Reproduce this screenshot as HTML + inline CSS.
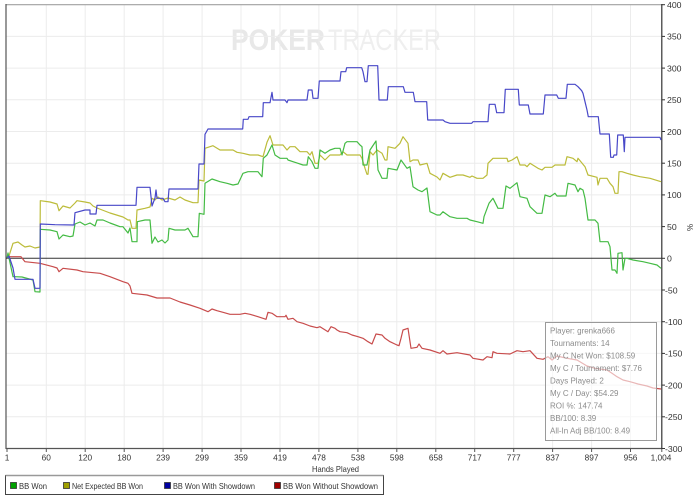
<!DOCTYPE html>
<html><head><meta charset="utf-8"><style>
html,body{margin:0;padding:0;background:#fff;}
svg{display:block;}
text{font-family:"Liberation Sans",Arial,sans-serif;}
</style></head><body>
<svg width="700" height="500" viewBox="0 0 700 500" xmlns="http://www.w3.org/2000/svg">
<rect x="0" y="0" width="700" height="500" fill="#fff"/>
<!-- watermark -->
<text x="231" y="50" font-size="30" font-weight="bold" fill="#e8e8e8" textLength="94" lengthAdjust="spacingAndGlyphs">POKER</text>
<text x="328" y="50" font-size="30" fill="#efefef" textLength="113" lengthAdjust="spacingAndGlyphs">TRACKER</text>
<!-- horizontal grid -->
<g stroke="#ececec" stroke-width="1">
<line x1="6" y1="36.4" x2="662" y2="36.4"/><line x1="6" y1="68.1" x2="662" y2="68.1"/>
<line x1="6" y1="99.8" x2="662" y2="99.8"/><line x1="6" y1="131.5" x2="662" y2="131.5"/>
<line x1="6" y1="163.2" x2="662" y2="163.2"/><line x1="6" y1="194.9" x2="662" y2="194.9"/>
<line x1="6" y1="226.6" x2="662" y2="226.6"/><line x1="6" y1="290" x2="662" y2="290"/>
<line x1="6" y1="321.7" x2="662" y2="321.7"/><line x1="6" y1="353.4" x2="662" y2="353.4"/>
<line x1="6" y1="385.1" x2="662" y2="385.1"/><line x1="6" y1="416.8" x2="662" y2="416.8"/>
</g>
<!-- vertical grid -->
<g stroke="#ececec" stroke-width="1">
<line x1="46.3" y1="5" x2="46.3" y2="448"/><line x1="85.2" y1="5" x2="85.2" y2="448"/>
<line x1="124.2" y1="5" x2="124.2" y2="448"/><line x1="163.1" y1="5" x2="163.1" y2="448"/>
<line x1="202.1" y1="5" x2="202.1" y2="448"/><line x1="241" y1="5" x2="241" y2="448"/>
<line x1="280" y1="5" x2="280" y2="448"/><line x1="318.9" y1="5" x2="318.9" y2="448"/>
<line x1="357.9" y1="5" x2="357.9" y2="448"/><line x1="396.8" y1="5" x2="396.8" y2="448"/>
<line x1="435.8" y1="5" x2="435.8" y2="448"/><line x1="474.7" y1="5" x2="474.7" y2="448"/>
<line x1="513.7" y1="5" x2="513.7" y2="448"/><line x1="552.6" y1="5" x2="552.6" y2="448"/>
<line x1="591.6" y1="5" x2="591.6" y2="448"/><line x1="630.5" y1="5" x2="630.5" y2="448"/>
</g>
<!-- frame -->
<line x1="6" y1="4.7" x2="662" y2="4.7" stroke="#a0a0a0" stroke-width="1.2"/>
<line x1="6" y1="4" x2="6" y2="449" stroke="#555" stroke-width="1.2"/>
<line x1="6" y1="448.5" x2="662" y2="448.5" stroke="#555" stroke-width="1.2"/>
<line x1="661.8" y1="4" x2="661.8" y2="449" stroke="#333" stroke-width="1.2"/>
<line x1="6" y1="258.3" x2="662" y2="258.3" stroke="#333" stroke-width="1"/>

<!-- series -->
<g fill="none" stroke-width="1.2" stroke-linejoin="round">
<polyline stroke="#c84c4c" points="7,258 8,256.7 21,256.7 25,261.7 40,263.3 53,266.7 57,268 59,271.7 63,268.3 77,270 83,271.7 100,273.3 110,276.7 123,281.7 128,283.3 130,286 132,293.3 147,295 157,298 170,298 180,302 190,305 200,308.3 208,311.7 212,309 217,310.7 223,312.3 230,314.3 240,314.3 245,313.3 250,314.3 258,316.7 266,319.3 268,312.3 272,313.3 277,316.7 285,316.7 286,315.3 288,319.3 293,318.3 297,321.7 303,323.3 310,326 317,327.7 320,326.7 328,331.7 331,326.7 335,328.3 337,330 340,331.7 347,332.7 352,335 358,336.7 363,338.3 368,341.7 372,344 376,334 382,335 385,338.3 390,341.7 397,345 399,345.7 401,338.3 403,330 408,328.3 411,348.3 417,347.3 419,344 422,348.3 430,350 440,353.3 443,350.7 447,354 457,352.7 470,355 473,358.3 483,360 487,356.7 492,357.7 493,351.7 497,353.3 510,354 517,350.7 523,351.7 530,350.7 537,358.3 543,359.3 548,356.7 552,360 557,356 567,358.3 577,360 587,366 595,368.3 607,370 612,373.3 617,376.7 623,380 630,381.7 638,384 647,386 653,388 661,389"/>
<polyline stroke="#bcbc3a" points="7,258 9,256 13,243.3 18,242 22,245 25,247 30,246 35,248 40,247 40.3,200.7 50,202 57,204 59,210.7 63,206 70,208 75,203 77,200.7 85,202 90,203 93,206 97,208 110,213 123,217 128,220 130,220 132,228.3 136,228.3 137,210 145,208.3 150,207 152,198.3 155,200 158,197 162,200 168,198 175,200 180,197 185,200 193,202.7 198,202.7 199,180 204,181 205,148.3 213,145.7 220,150 233,150 237,152.3 243,153.3 250,155 258,155 263,156.7 267,142.3 270,135.7 273,145 283,145 287,150 290,146.7 295,146.7 300,151.7 307,151.7 310,155 312,151.7 315,163.3 318,163.3 320,155 325,160 330,155 340,155 343,151.7 347,155 360,155 362,158.3 365,168.3 367,174.3 368,174.3 370,151.7 373,155 377,150 382,153.3 385,160 387,160 388,146.7 395,148.3 400,143.3 403,136.7 408,143.3 410,161.7 413,160 418,160 420,165 427,163.3 430,173.3 437,177 440,180 443,173.3 450,177.3 457,175 463,175 470,177.3 472,176 477,178.3 483,178.3 487,175 488,163.3 493,158.3 507,158.3 508,161.7 512,160 517,156.7 520,165 525,165 527,166.7 530,163.3 538,168.3 542,170 545,167.3 552,167.3 555,165 565,165 567,156.7 573,158.3 577,161.7 578,158.3 585,166.7 588,175 597,177.3 598,185 600,178.3 607,178.3 610,183.3 613,186.7 615,193.3 618,193.3 619,171.7 622,171.7 627,173.3 633,175 640,176.7 650,178.3 661,181.7"/>
<polyline stroke="#44bb44" points="7,258 8,253 9,258 13,276.7 15,276.7 22,277 33,280 35,291.7 40,292 40.3,229.3 50,230 57,231.7 59,239 63,235 70,236.7 73,236 75,224 80,222 85,225 90,223 95,226 97,220 103,220 110,223 120,226.7 123,226.7 128,233 130,228 132,241.7 137,241.7 137.3,221.7 145,220 150,220 152,243.3 155,237 158,242 162,240 165,243 168,240 169,228.3 175,230 185,230 188,228.3 193,236.7 198,236.7 199.3,213.3 204,214.3 205,183.3 212,179 220,181.7 227,183.3 233,185 238,184 243,173.3 248,171.7 258,171.7 262,176.7 263.3,158.3 267,155 272,145 275,155 280,158.3 287,158.3 288,160 293,161.7 298,163.3 303,165 307,165 308.3,156.7 312,161.7 315,168.3 318,168.3 320,150 325,153.3 330,150 335,148.3 340,148.3 342,155 345,143.3 347,141.7 357,141.7 360,145 362,146.7 363,165 367,165 368,160 370,150 376,141 378,170 382,178.3 387,178.3 388,168.3 397,170 401,160 407,168.3 410,166.7 413,186.7 418,190 422,191.7 427,188 430,211.7 437,215 440,215 443,211.7 450,216.7 457,218.3 467,218.3 470,220 477,221.7 483,223.3 484,216.7 489,203.3 493,198.3 498,208.3 503,208.3 506,186 510,188.3 517,182.7 520,196.7 527,198.3 530,206.7 537,213.3 542,213.3 545,195 550,196.7 555,193.3 557,196 566,196 568,183.3 575,185 578,191.7 580,188.3 583,190 585,198.3 588,220 595,220 598,223.3 600,241.7 608,241.7 610,246.7 612,270 615,270 617,273.3 618,253.3 622,252.7 623,270 625,258.3 627,258.3 633,260 643,261.7 650,263.3 657,265 661,268.3"/>
<polyline stroke="#4848c8" points="7,258 9,256 13,268 15,279.3 33,279.3 35,288.3 40,288.3 40.3,224 55,224.7 74,225 75,212.7 85,210 90,210 90,214 96,214 97,205.3 136,205.3 137,187.3 150,187.3 152,206 155,198 156,190 157,198.3 163,198.3 165,201.7 168,201.7 169,189 198,189 199,164 204,164 205,134.3 208,129 242.7,129 243.3,119.3 248,119.3 249,116.7 262.7,116.7 263.3,102.7 270,102.7 272,92.3 273,100 285,100 287,102.7 288,100 307,100 308.3,90 312,90 313,98.3 318,98.3 319.3,81 340,81 341,71.7 345.7,71.7 346.7,67.7 361.7,67.7 363,71.7 365,81.7 367,81.7 368.3,65.7 377.7,65.7 379,100 387.3,100 388.3,86.7 403.3,86.7 405,92.3 413.3,92.3 415,101.7 426.7,101.7 427.7,120 443,120 445,121.7 450,123.3 471.7,123.3 473,121.7 488,121.7 489.3,104.3 495,104.3 496.7,112.7 504,112.7 505.3,89.3 518.3,89.3 519.3,105 528.3,105 530,114 543.3,114 545,95 556.7,95 558.3,98.3 566,98.3 567.3,84.3 575,84.3 578,86.7 581.7,90.7 583,93.3 585,101.7 587,110 588.3,116.7 598.3,116.7 600,134 609.3,134 610.7,157.3 613.3,157.3 614,155 616.7,155 617.7,135 623.3,135 624.3,151.7 625,137.3 660,137.3 661,140"/>
</g>

<!-- info box -->
<rect x="545.5" y="322.5" width="111" height="118" fill="#ffffff" fill-opacity="0.6" stroke="#9a9a9a" stroke-width="1"/>
<g font-size="8" fill="#8c8c8c">
<text x="550" y="333.5">Player: grenka666</text>
<text x="550" y="346">Tournaments: 14</text>
<text x="550" y="358.5">My C Net Won: $108.59</text>
<text x="550" y="371">My C / Tournament: $7.76</text>
<text x="550" y="383.5">Days Played: 2</text>
<text x="550" y="396">My C / Day: $54.29</text>
<text x="550" y="408.5">ROI %: 147.74</text>
<text x="550" y="421">BB/100: 8.39</text>
<text x="550" y="433.5">All-In Adj BB/100: 8.49</text>
</g>

<!-- right axis ticks & labels -->
<g stroke="#333" stroke-width="1">
<line x1="662" y1="4.7" x2="665" y2="4.7"/><line x1="662" y1="36.4" x2="665" y2="36.4"/>
<line x1="662" y1="68.1" x2="665" y2="68.1"/><line x1="662" y1="99.8" x2="665" y2="99.8"/>
<line x1="662" y1="131.5" x2="665" y2="131.5"/><line x1="662" y1="163.2" x2="665" y2="163.2"/>
<line x1="662" y1="194.9" x2="665" y2="194.9"/><line x1="662" y1="226.6" x2="665" y2="226.6"/>
<line x1="662" y1="258.3" x2="665" y2="258.3"/><line x1="662" y1="290" x2="665" y2="290"/>
<line x1="662" y1="321.7" x2="665" y2="321.7"/><line x1="662" y1="353.4" x2="665" y2="353.4"/>
<line x1="662" y1="385.1" x2="665" y2="385.1"/><line x1="662" y1="416.8" x2="665" y2="416.8"/>
<line x1="662" y1="448.5" x2="665" y2="448.5"/>
</g>
<g font-size="8.7" fill="#333">
<text x="667" y="8">400</text><text x="667" y="39.7">350</text><text x="667" y="71.4">300</text>
<text x="667" y="103.1">250</text><text x="667" y="134.8">200</text><text x="667" y="166.5">150</text>
<text x="667" y="198.2">100</text><text x="667" y="229.9">50</text><text x="667" y="261.6">0</text>
<text x="665" y="293.3">-50</text><text x="665" y="325">-100</text><text x="665" y="356.7">-150</text>
<text x="665" y="388.4">-200</text><text x="665" y="420.1">-250</text><text x="665" y="451.8">-300</text>
</g>
<text x="0" y="0" font-size="8" fill="#333" transform="translate(687,224) rotate(90)">%</text>

<!-- bottom ticks & labels -->
<g stroke="#555" stroke-width="1">
<line x1="7" y1="449" x2="7" y2="452"/><line x1="46.3" y1="449" x2="46.3" y2="452"/>
<line x1="85.2" y1="449" x2="85.2" y2="452"/><line x1="124.2" y1="449" x2="124.2" y2="452"/>
<line x1="163.1" y1="449" x2="163.1" y2="452"/><line x1="202.1" y1="449" x2="202.1" y2="452"/>
<line x1="241" y1="449" x2="241" y2="452"/><line x1="280" y1="449" x2="280" y2="452"/>
<line x1="318.9" y1="449" x2="318.9" y2="452"/><line x1="357.9" y1="449" x2="357.9" y2="452"/>
<line x1="396.8" y1="449" x2="396.8" y2="452"/><line x1="435.8" y1="449" x2="435.8" y2="452"/>
<line x1="474.7" y1="449" x2="474.7" y2="452"/><line x1="513.7" y1="449" x2="513.7" y2="452"/>
<line x1="552.6" y1="449" x2="552.6" y2="452"/><line x1="591.6" y1="449" x2="591.6" y2="452"/>
<line x1="630.5" y1="449" x2="630.5" y2="452"/><line x1="661.8" y1="449" x2="661.8" y2="452"/>
</g>
<g font-size="8.3" fill="#333" text-anchor="middle">
<text x="7" y="460.5">1</text><text x="46.3" y="460.5">60</text><text x="85.2" y="460.5">120</text>
<text x="124.2" y="460.5">180</text><text x="163.1" y="460.5">239</text><text x="202.1" y="460.5">299</text>
<text x="241" y="460.5">359</text><text x="280" y="460.5">419</text><text x="318.9" y="460.5">478</text>
<text x="357.9" y="460.5">538</text><text x="396.8" y="460.5">598</text><text x="435.8" y="460.5">658</text>
<text x="474.7" y="460.5">717</text><text x="513.7" y="460.5">777</text><text x="552.6" y="460.5">837</text>
<text x="591.6" y="460.5">897</text><text x="630.5" y="460.5">956</text><text x="661" y="460.5">1,004</text>
</g>
<text x="312" y="472" font-size="8.5" fill="#333" textLength="47" lengthAdjust="spacingAndGlyphs">Hands Played</text>

<!-- legend -->
<rect x="5.5" y="475.5" width="378" height="19" fill="#fff" stroke="#444" stroke-width="1"/>
<line x1="5.5" y1="475.5" x2="383.5" y2="475.5" stroke="#999" stroke-width="1.5"/>
<g stroke="#333" stroke-width="0.8">
<rect x="10.5" y="482.5" width="6" height="6" fill="#00a000"/>
<rect x="63.5" y="482.5" width="6" height="6" fill="#a0a000"/>
<rect x="164.5" y="482.5" width="6" height="6" fill="#0000a0"/>
<rect x="274.5" y="482.5" width="6" height="6" fill="#a00000"/>
</g>
<g font-size="8.5" fill="#333">
<text x="19" y="489" textLength="28" lengthAdjust="spacingAndGlyphs">BB Won</text>
<text x="72" y="489" textLength="71" lengthAdjust="spacingAndGlyphs">Net Expected BB Won</text>
<text x="173" y="489" textLength="82" lengthAdjust="spacingAndGlyphs">BB Won With Showdown</text>
<text x="283" y="489" textLength="95" lengthAdjust="spacingAndGlyphs">BB Won Without Showdown</text>
</g>
</svg>
</body></html>
